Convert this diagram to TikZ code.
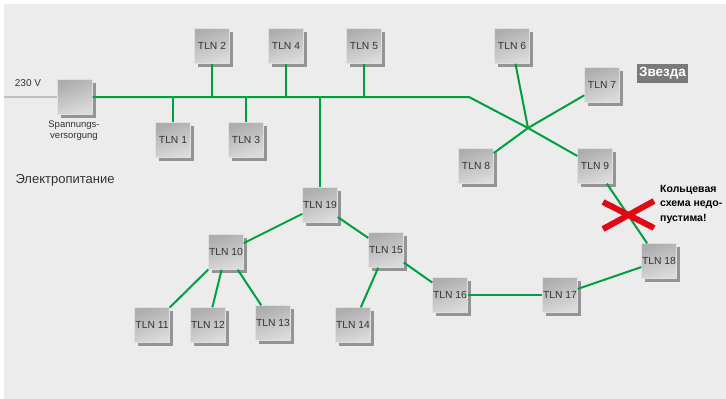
\documentclass[tikz,border=0pt]{standalone}
\usepackage{fontspec}
\setmainfont{Liberation Sans}
\usetikzlibrary{shadows}

\definecolor{netgreen}{HTML}{00A03C}
\definecolor{crossred}{HTML}{E30613}
\definecolor{bggray}{HTML}{ECECEC}
\definecolor{txtgray}{HTML}{333333}

\newcommand*{\xmax}{726}
\newcommand*{\ymax}{399}
\newcommand*{\busy}{97}

\begin{document}
\begin{tikzpicture}
[
	x=1pt,y=-1pt,
	tln/.style={rectangle,minimum size=35pt,inner sep=0pt,
		top color=black!32,bottom color=black!14,shading angle=20,
		draw=black!12,line width=0.4pt,
		drop shadow={shadow xshift=3pt,shadow yshift=-3pt,fill=black!42,opacity=1},
		text=txtgray,font=\fontsize{10.3}{12}\selectfont},
	bus/.style={netgreen,line width=2pt},
	mains/.style={black!25,line width=2pt},
	cross/.style={crossred,line width=6pt},
	note/.style={text=txtgray,align=center,font=\fontsize{9.5}{11}\selectfont}
]

	% frame
	\useasboundingbox (0,0) rectangle (\xmax,\ymax);
	\fill[bggray] (4,4) rectangle (\xmax,\ymax);

	% power supply
	\node[tln] (pwr) at (75,\busy) {};
	\coordinate (mainsin) at (4,\busy);
	\node[text=txtgray,font=\fontsize{10}{12}\selectfont] (volt) at (28,83) {230 V};
	\node[note] (pwrlabel) at (74,131) {Spannungs-\\versorgung};
	\node[text=txtgray,font=\fontsize{13}{15}\selectfont,anchor=west] (title) at (12,180) {Электропитание};

	% bus nodes
	\node[tln] (tln1) at (173,140) {TLN 1};
	\node[tln] (tln2) at (212,46) {TLN 2};
	\node[tln] (tln3) at (246,140) {TLN 3};
	\node[tln] (tln4) at (286,46) {TLN 4};
	\node[tln] (tln5) at (364,46) {TLN 5};

	% star nodes
	\node[tln] (tln6) at (512,46) {TLN 6};
	\node[tln] (tln7) at (602,85) {TLN 7};
	\node[tln] (tln8) at (476,166) {TLN 8};
	\node[tln] (tln9) at (595,166) {TLN 9};
	\node[fill=black!52,text=white,inner xsep=2pt,inner ysep=0pt,minimum height=19pt,
		font=\bfseries\fontsize{13.5}{15}\selectfont] (starlabel) at (662.5,73.5) {Звезда};

	% tree nodes
	\node[tln] (tln19) at (320,205) {TLN 19};
	\node[tln] (tln10) at (226,252) {TLN 10};
	\node[tln] (tln15) at (386,250) {TLN 15};
	\node[tln] (tln11) at (152,325) {TLN 11};
	\node[tln] (tln12) at (208,325) {TLN 12};
	\node[tln] (tln13) at (273,323) {TLN 13};
	\node[tln] (tln14) at (353,325) {TLN 14};
	\node[tln] (tln16) at (450,295) {TLN 16};
	\node[tln] (tln17) at (560,295) {TLN 17};
	\node[tln] (tln18) at (659,261) {TLN 18};

	\node[text=black,anchor=north west,align=left,inner sep=0pt,
		font=\bfseries\fontsize{10.5}{14.5}\selectfont] (ringlabel) at (660,185)
		{Кольцевая\\схема недо-\\пустима!};

	% lines
	\coordinate (bend) at (469,\busy);
	\coordinate (star) at (528,128);
	\draw[mains] (mainsin) -- (pwr.west);
	\draw[bus] (pwr.east) -- (bend) -- (star) -- (tln9);
	\foreach \n in {1,2,3,4,5,19} {
		\draw[bus] (tln\n) -- (tln\n |- bend);
	}
	\foreach \n in {6,7,8} {
		\draw[bus] (tln\n) -- (star);
	}

	\draw[bus] (tln19) -- (tln10);
	\draw[bus] (tln19) -- (tln15);
	\foreach \n in {11,12,13} {
		\draw[bus] (tln10) -- (tln\n);
	}
	\draw[bus] (tln15) -- (tln14);
	\draw[bus] (tln15) -- (tln16);
	\draw[bus] (tln16) -- (tln17);
	\draw[bus] (tln17) -- (tln18);
	\draw[bus] (tln9) -- (tln18);

	% forbidden ring
	\draw[cross] (603,202) -- (654,228);
	\draw[cross] (654,201) -- (603,229);

\end{tikzpicture}
\end{document}
